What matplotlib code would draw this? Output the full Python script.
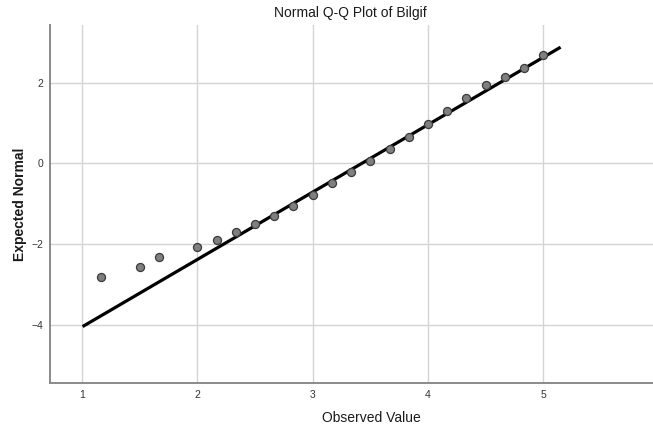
import matplotlib
matplotlib.use("Agg")
import matplotlib.pyplot as plt
import numpy as np

observed = [1.167, 1.5, 1.667, 2.0, 2.167, 2.333, 2.5, 2.667, 2.833, 3.0, 3.167,
            3.333, 3.5, 3.667, 3.833, 4.0, 4.167, 4.333, 4.5, 4.667, 4.833, 5.0]
expected = [-2.81, -2.58, -2.33, -2.08, -1.90, -1.71, -1.50, -1.30, -1.07, -0.78, -0.49,
            -0.21, 0.065, 0.355, 0.66, 0.975, 1.305, 1.63, 1.94, 2.15, 2.37, 2.68]
ref_mean = 3.427
ref_sd = 0.598
line_x = [1.017, 5.137]

x_ticks = [1, 2, 3, 4, 5]
y_ticks = [-4, -2, 0, 2]

plt.rcParams['font.family'] = ['Liberation Sans', 'DejaVu Sans']

fig = plt.figure(figsize=(6.53, 4.30), dpi=100)
ax = fig.add_axes([50.3/653, 1-383/430, 1-50.3/653, (383-25)/430])

ax.set_xlim(0.725, 5.95)
ax.set_ylim(-5.45, 3.43)
ax.set_xticks(x_ticks)
ax.set_yticks(y_ticks)
ax.grid(True, color='#d4d4d4', linewidth=1.0)
ax.set_axisbelow(True)

for s in ['top', 'right']:
    ax.spines[s].set_visible(False)
for s in ['left', 'bottom']:
    ax.spines[s].set_color('#8a8a8a')
    ax.spines[s].set_linewidth(1.4)

ax.tick_params(length=0, labelsize=7.5, labelcolor='#333333', pad=5)

lx = np.array(line_x)
ax.plot(lx, (lx - ref_mean) / ref_sd, color='black', linewidth=2.3, zorder=2)
ax.plot(observed, expected, 'o', markersize=5.8, markerfacecolor='#7f7f7f',
        markeredgecolor='#3a3a3a', markeredgewidth=0.9, zorder=3)

fig.text(350/653, 1-13/430, 'Normal Q-Q Plot of Bilgif', ha='center', va='center',
         fontsize=10, color='#1a1a1a')
fig.text(371/653, 1-418/430, 'Observed Value', ha='center', va='center',
         fontsize=10, color='#1a1a1a')
fig.text(20/653, 1-204/430, 'Expected Normal', ha='center', va='center', rotation=90,
         fontsize=10, fontweight='bold', color='#1a1a1a')

fig.savefig('out.png', dpi=100)
